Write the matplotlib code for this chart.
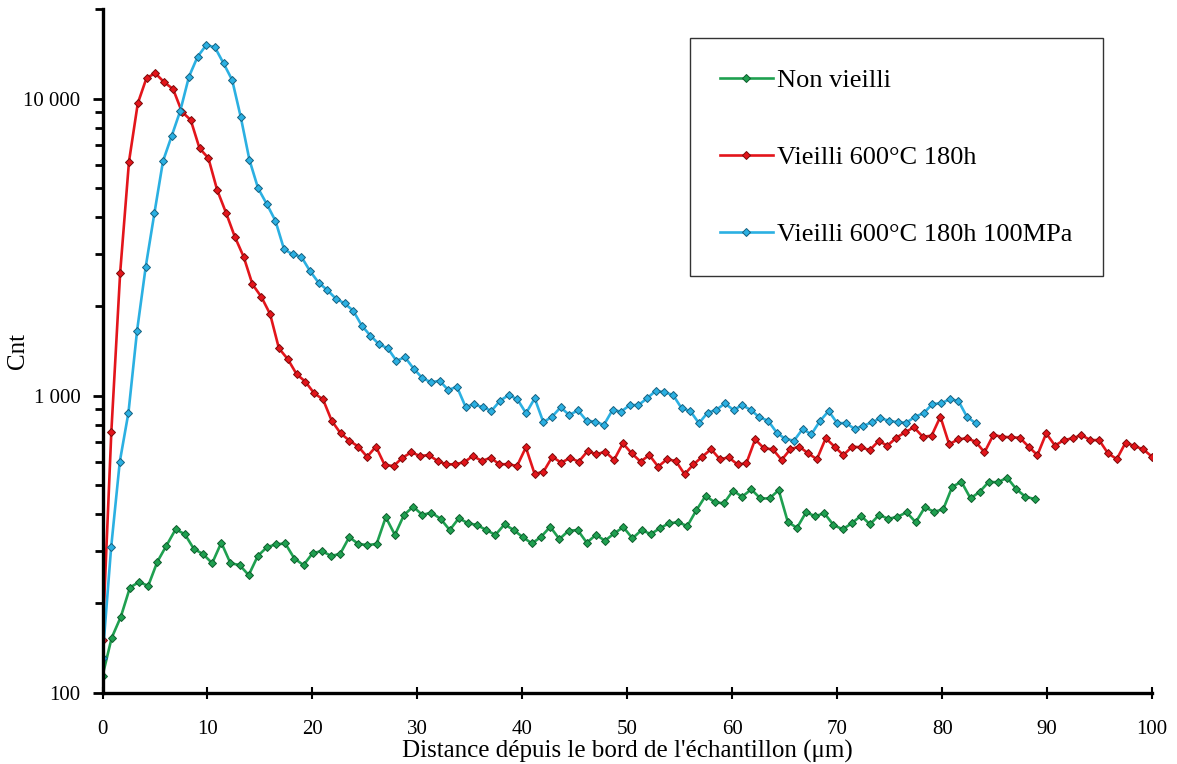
import numpy as np
import matplotlib
matplotlib.use("Agg")
import matplotlib.pyplot as plt
from matplotlib.ticker import FixedLocator, LogLocator, NullFormatter

plt.rcParams['font.family'] = ['Liberation Serif', 'DejaVu Serif']

# sampling step of each profile (um)
step_non_vieilli = 0.8706
step_600 = 100 / 119
step_600_mpa = 0.8236

cnt_non_vieilli = [114, 153, 180, 226, 236, 229, 276, 313, 355, 342,
                   305, 293, 273, 320, 273, 269, 249, 289, 309, 316,
                   318, 283, 269, 295, 300, 289, 293, 334, 317, 314,
                   317, 390, 340, 397, 423, 397, 404, 385, 353, 387,
                   372, 367, 353, 340, 369, 353, 334, 318, 335, 362,
                   329, 351, 353, 320, 340, 325, 344, 361, 331, 353,
                   342, 358, 372, 375, 364, 412, 460, 438, 434, 479,
                   457, 484, 451, 451, 481, 376, 359, 405, 393, 402,
                   367, 355, 372, 394, 369, 397, 385, 391, 405, 375,
                   421, 407, 414, 494, 513, 451, 475, 513, 511, 530,
                   485, 457, 449]

cnt_600 = [150, 756, 2594, 6138, 9650, 11770, 12170, 11360, 10780, 9040,
           8480, 6808, 6314, 4926, 4133, 3430, 2938, 2372, 2154, 1884,
           1444, 1329, 1183, 1115, 1019, 972, 822, 747, 706, 674,
           623, 674, 584, 580, 618, 645, 627, 631, 603, 587,
           588, 597, 627, 603, 618, 588, 588, 580, 670, 545,
           555, 623, 595, 617, 600, 651, 635, 648, 608, 691,
           640, 600, 631, 577, 611, 603, 544, 587, 623, 661,
           611, 620, 587, 592, 713, 665, 660, 608, 661, 674,
           640, 611, 719, 674, 631, 674, 670, 656, 704, 679,
           722, 753, 783, 728, 733, 850, 686, 713, 719, 700,
           645, 737, 728, 724, 722, 674, 631, 747, 679, 709,
           719, 737, 709, 709, 640, 612, 695, 677, 660, 623]

cnt_600_mpa = [131, 309, 600, 877, 1658, 2719, 4113, 6169, 7489, 9112,
               11860, 13850, 15160, 14900, 13160, 11560, 8656, 6217, 4992, 4421,
               3884, 3113, 2993, 2938, 2630, 2402, 2269, 2122, 2047, 1933,
               1721, 1592, 1490, 1444, 1312, 1347, 1233, 1147, 1110, 1123,
               1045, 1072, 918, 935, 914, 890, 962, 1006, 972, 873,
               980, 814, 850, 914, 861, 893, 824, 818, 797, 895,
               884, 930, 930, 980, 1039, 1027, 1006, 907, 888, 808,
               877, 895, 943, 895, 930, 895, 846, 824, 751, 715,
               706, 773, 741, 822, 888, 808, 809, 774, 791, 814,
               839, 824, 814, 811, 850, 873, 938, 943, 972, 962,
               850, 808]

labels = ['Non vieilli', 'Vieilli 600°C 180h', 'Vieilli 600°C 180h 100MPa']

x_nv = np.arange(len(cnt_non_vieilli)) * step_non_vieilli
x_600 = np.arange(len(cnt_600)) * step_600
x_mpa = np.arange(len(cnt_600_mpa)) * step_600_mpa

fig = plt.figure(figsize=(11.77, 7.64), dpi=100)
ax = fig.add_axes([0.0871, 0.0933, 0.8917, 0.8945])

ax.plot(x_nv, cnt_non_vieilli, color='#1fa050', lw=1.9, marker='D', ms=4.5,
        mfc='#1fa050', mec='#0d5c2c', mew=0.7, label=labels[0])
ax.plot(x_600, cnt_600, color='#e3151b', lw=1.9, marker='D', ms=4.5,
        mfc='#e3151b', mec='#7a0a0a', mew=0.7, label=labels[1])
ax.plot(x_mpa, cnt_600_mpa, color='#2bb0e2', lw=1.9, marker='D', ms=4.5,
        mfc='#2bb0e2', mec='#16607e', mew=0.7, label=labels[2])

ax.set_yscale('log')
ax.set_ylim(100, 20000)
ax.set_xlim(0, 100)

ax.yaxis.set_major_locator(FixedLocator([100, 1000, 10000]))
ax.set_yticklabels(['100', '1 000', '10 000'])
ax.yaxis.set_minor_locator(LogLocator(base=10, subs=np.arange(2, 10)))
ax.yaxis.set_minor_formatter(NullFormatter())
ax.set_xticks(np.arange(0, 101, 10))

ax.tick_params(axis='y', which='major', direction='out', length=7, width=2, labelsize=15, pad=9)
ax.tick_params(axis='y', which='minor', direction='out', length=6, width=2)
ax.tick_params(axis='x', which='major', direction='inout', length=8, width=1.5, labelsize=15, pad=16)

for s in ['top', 'right']:
    ax.spines[s].set_visible(False)
for s in ['left', 'bottom']:
    ax.spines[s].set_linewidth(2.4)

ax.set_xlabel("Distance dépuis le bord de l'échantillon (μm)", fontsize=18, labelpad=0)
ax.set_ylabel('Cnt', fontsize=18, labelpad=-4)

leg = ax.legend(loc='upper left', bbox_to_anchor=(0.586, 0.950), bbox_transform=fig.transFigure,
                fontsize=19, fancybox=False, edgecolor='#333333', framealpha=1,
                labelspacing=2.03, handlelength=2.0, handletextpad=0.15,
                borderpad=1.15, borderaxespad=0, markerscale=0.8)
leg.get_frame().set_linewidth(1.0)

fig.savefig('out.png', dpi=100)
